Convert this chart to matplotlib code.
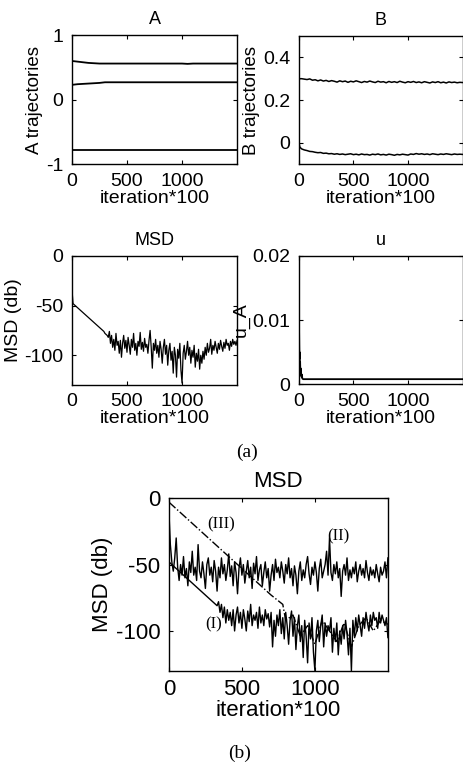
import numpy as np
import matplotlib
matplotlib.use("Agg")
import matplotlib.pyplot as plt

plt.rcParams['font.family'] = ['Liberation Sans', 'DejaVu Sans']
plt.rcParams['axes.unicode_minus'] = False

# ---- panel (a): A trajectories ----
A_iter = [0, 25, 50, 100, 150, 200, 250, 300, 500, 800, 1000, 1050, 1100, 1300, 1500]
A_top = [0.60, 0.595, 0.59, 0.58, 0.57, 0.565, 0.56, 0.56, 0.56, 0.56, 0.56, 0.555, 0.56, 0.56, 0.56]
A_mid = [0.23, 0.235, 0.24, 0.245, 0.25, 0.255, 0.26, 0.27, 0.27, 0.27, 0.27, 0.27, 0.27, 0.27, 0.27]
A_low = [-0.78, -0.78, -0.78, -0.78, -0.78, -0.78, -0.78, -0.78, -0.78, -0.78, -0.78, -0.78, -0.78, -0.78, -0.78]

# ---- panel (a): B trajectories ----
B_iter = [0, 5, 10] + list(range(25, 1501, 25))
B_top = [0.27, 0.30, 0.30,
         0.300, 0.298, 0.296, 0.299, 0.293, 0.295, 0.290, 0.294, 0.289, 0.292,
         0.287, 0.291, 0.288, 0.284, 0.290, 0.286, 0.289, 0.283, 0.288, 0.285,
         0.290, 0.286, 0.282, 0.287, 0.284, 0.289, 0.285, 0.282, 0.288, 0.284,
         0.286, 0.281, 0.287, 0.283, 0.286, 0.282, 0.288, 0.284, 0.281, 0.286,
         0.283, 0.287, 0.282, 0.285, 0.281, 0.286, 0.283, 0.280, 0.285, 0.282,
         0.286, 0.281, 0.284, 0.280, 0.285, 0.282, 0.284, 0.281, 0.283, 0.282]
B_low = [0.02, -0.01, -0.02,
         -0.028, -0.033, -0.036, -0.040, -0.041, -0.044, -0.046, -0.045, -0.049, -0.048,
         -0.051, -0.050, -0.053, -0.051, -0.054, -0.052, -0.055, -0.053, -0.051, -0.055,
         -0.053, -0.056, -0.052, -0.055, -0.054, -0.057, -0.053, -0.055, -0.052, -0.056,
         -0.054, -0.057, -0.053, -0.055, -0.058, -0.054, -0.056, -0.053, -0.055, -0.057,
         -0.052, -0.054, -0.050, -0.053, -0.051, -0.054, -0.052, -0.055, -0.051, -0.053,
         -0.055, -0.052, -0.054, -0.051, -0.053, -0.055, -0.052, -0.054, -0.053, -0.054]

# ---- panel (a): MSD (every 10 iterations*100) ----
MSD_a = [-33, -48, -49, -50, -51, -52, -53, -54, -55, -56,
         -57, -58, -59, -60, -61, -62, -63, -64, -65, -66,
         -67, -68, -69, -70, -71, -72, -73, -74, -75, -76,
         -78, -79, -80, -82, -76, -88, -80, -92, -84, -95,
         -78, -90, -86, -98, -85, -102, -88, -80, -93, -85,
         -97, -82, -90, -99, -84, -92, -78, -95, -88, -100,
         -86, -91, -77, -94, -87, -96, -83, -92, -89, -98,
         -85, -75, -92, -113, -88, -95, -84, -98, -90, -102,
         -86, -94, -108, -92, -84, -99, -90, -110, -95, -88,
         -105, -96, -118, -92, -100, -122, -94, -103, -88, -115,
         -128, -98, -90, -104, -96, -86, -100, -92, -108, -95,
         -102, -90, -112, -98, -106, -94, -114, -100, -108, -96,
         -104, -92, -100, -88, -97, -93, -84, -99, -90, -95,
         -86, -92, -98, -88, -94, -85, -91, -96, -87, -93,
         -84, -90, -88, -95, -86, -91, -84, -89, -86, -90,
         -85]

# ---- panel (a): u ----
u_iter = [0, 1, 2, 4, 6, 8, 10, 12, 14, 16, 18, 20, 24, 28, 32, 40, 1500]
u_A = [0.0, 0.012, 0.009, 0.006, 0.004, 0.005, 0.003, 0.0035, 0.002, 0.0025,
       0.0015, 0.002, 0.0012, 0.0015, 0.0009, 0.0008, 0.0008]

# ---- panel (b): MSD curves (every 10 iterations*100) ----
MSD_I = [-48, -49, -50, -51, -52, -53, -54, -55, -56, -57,
         -58, -59, -60, -61, -62, -63, -64, -65, -66, -67,
         -68, -69, -70, -71, -72, -73, -74, -75, -76, -77,
         -78, -79, -80, -81, -78, -86, -80, -90, -82, -94,
         -84, -92, -86, -96, -84, -100, -88, -82, -94, -86,
         -98, -84, -91, -100, -85, -93, -80, -96, -88, -92,
         -86, -98, -82, -94, -88, -96, -84, -91, -87, -97,
         -86, -112, -92, -104, -88, -96, -84, -102, -90, -106,
         -86, -96, -110, -92, -85, -104, -90, -114, -96, -88,
         -108, -96, -120, -92, -104, -124, -94, -106, -90, -116,
         -130, -100, -92, -108, -96, -88, -112, -94, -104, -96,
         -100, -90, -116, -98, -108, -94, -118, -100, -110, -96,
         -106, -92, -102, -118, -98, -130, -92, -104, -90, -100,
         -88, -96, -104, -90, -98, -86, -94, -100, -88, -96,
         -86, -92, -90, -98, -86, -94, -88, -92, -96, -90,
         -105]

MSD_II = [-10, -35, -48, -55, -45, -30, -52, -62, -50, -58,
          -44, -60, -53, -66, -48, -56, -40, -58, -52, -62,
          -35, -55, -60, -48, -57, -68, -50, -45, -58, -52,
          -63, -47, -55, -70, -52, -60, -45, -57, -50, -62,
          -54, -42, -59, -51, -66, -48, -56, -72, -53, -45,
          -58, -50, -64, -55, -47, -60, -52, -68, -49, -57,
          -44, -62, -54, -50, -66, -56, -48, -60, -53, -70,
          -58, -50, -62, -46, -56, -52, -60, -48, -55, -64,
          -50, -57, -45, -60, -53, -66, -51, -58, -72, -55,
          -48, -62, -54, -60, -50, -44, -57, -65, -52, -58,
          -48, -56, -70, -53, -46, -60, -55, -50, -40, -58,
          -30, -56, -62, -50, -57, -48, -60, -53, -74, -55,
          -50, -58, -45, -62, -54, -60, -52, -57, -48, -63,
          -55, -50, -58, -53, -60, -47, -56, -62, -52, -58,
          -54, -60, -50, -57, -63, -52, -58, -55, -48, -60,
          -45]

iter_III = [0, 100, 200, 300, 400, 500, 600, 700, 780, 800,
            850, 900, 950, 1000, 1050, 1100, 1150, 1200, 1250, 1300,
            1350, 1400, 1450, 1500]
MSD_III = [-3, -13, -23, -33, -43, -53, -63, -73, -80, -92,
           -88, -104, -96, -110, -92, -100, -108, -94, -112, -96,
           -90, -100, -92, -95]

fig = plt.figure(figsize=(4.64, 7.64), dpi=100)

small = 14
big = 16


def style(ax, fs):
    ax.set_xlim(0, 1500)
    ax.set_xticks([0, 500, 1000])
    ax.tick_params(direction='in', length=3, width=0.8, top=True, right=True,
                   labelsize=fs, pad=6)
    for s in ax.spines.values():
        s.set_linewidth(1.0)


ax1 = fig.add_axes([0.155, 0.785, 0.356, 0.169])
ax1.plot(A_iter, A_top, color='k', lw=1.3)
ax1.plot(A_iter, A_mid, color='k', lw=1.3)
ax1.plot(A_iter, A_low, color='k', lw=1.3)
ax1.set_ylim(-1, 1)
ax1.set_yticks([-1, 0, 1])
style(ax1, small)
ax1.set_title('A', fontsize=13, pad=8)
ax1.set_ylabel('A trajectories', fontsize=13.5, labelpad=2)
ax1.set_xlabel('iteration*100', fontsize=small, labelpad=0)

ax2 = fig.add_axes([0.644, 0.785, 0.353, 0.168])
ax2.plot(B_iter, B_top, color='k', lw=1.1)
ax2.plot(B_iter, B_low, color='k', lw=1.1)
ax2.set_ylim(-0.1, 0.5)
ax2.set_yticks([0, 0.2, 0.4])
ax2.set_yticklabels(['0', '0.2', '0.4'])
style(ax2, small)
ax2.set_title('B', fontsize=13, pad=8)
ax2.set_ylabel('B trajectories', fontsize=13.5, labelpad=2)
ax2.set_xlabel('iteration*100', fontsize=small, labelpad=0)

ax3 = fig.add_axes([0.155, 0.496, 0.356, 0.169])
ax3.plot(np.arange(0, 1501, 10), MSD_a, color='k', lw=0.9)
ax3.set_ylim(-130, 0)
ax3.set_yticks([-100, -50, 0])
style(ax3, small)
ax3.set_title('MSD', fontsize=13, pad=8)
ax3.set_ylabel('MSD (db)', fontsize=small, labelpad=2)
ax3.set_xlabel('iteration*100', fontsize=small, labelpad=0)

ax4 = fig.add_axes([0.644, 0.497, 0.353, 0.168])
ax4.plot(u_iter, u_A, color='k', lw=1.3)
ax4.set_ylim(0, 0.02)
ax4.set_yticks([0, 0.01, 0.02])
ax4.set_yticklabels(['0', '0.01', '0.02'])
style(ax4, small)
ax4.set_title('u', fontsize=13, pad=8)
ax4.set_ylabel('u_A', fontsize=small, labelpad=2)
ax4.set_xlabel('iteration*100', fontsize=small, labelpad=0)

fig.text(0.532, 0.408, '(a)', fontsize=14, family='Liberation Serif',
         ha='center', va='center')

ax5 = fig.add_axes([0.364, 0.122, 0.472, 0.226])
ax5.plot(np.arange(0, 1501, 10), MSD_II, color='k', lw=1.0)
ax5.plot(np.arange(0, 1501, 10), MSD_I, color='k', lw=1.0)
ax5.plot(iter_III, MSD_III, color='k', lw=1.0, ls='-.')
ax5.set_ylim(-130, 0)
ax5.set_yticks([-100, -50, 0])
style(ax5, big)
ax5.set_title('MSD', fontsize=big, pad=8)
ax5.set_ylabel('MSD (db)', fontsize=big, labelpad=2)
ax5.set_xlabel('iteration*100', fontsize=big, labelpad=0)
ax5.text(356, -20, '(III)', fontsize=12, family='Liberation Serif', ha='center', va='center')
ax5.text(1158, -29, '(II)', fontsize=12, family='Liberation Serif', ha='center', va='center')
ax5.text(308, -95, '(I)', fontsize=12, family='Liberation Serif', ha='center', va='center')

fig.text(0.517, 0.014, '(b)', fontsize=14, family='Liberation Serif',
         ha='center', va='center')

fig.savefig('out.png', dpi=100)
